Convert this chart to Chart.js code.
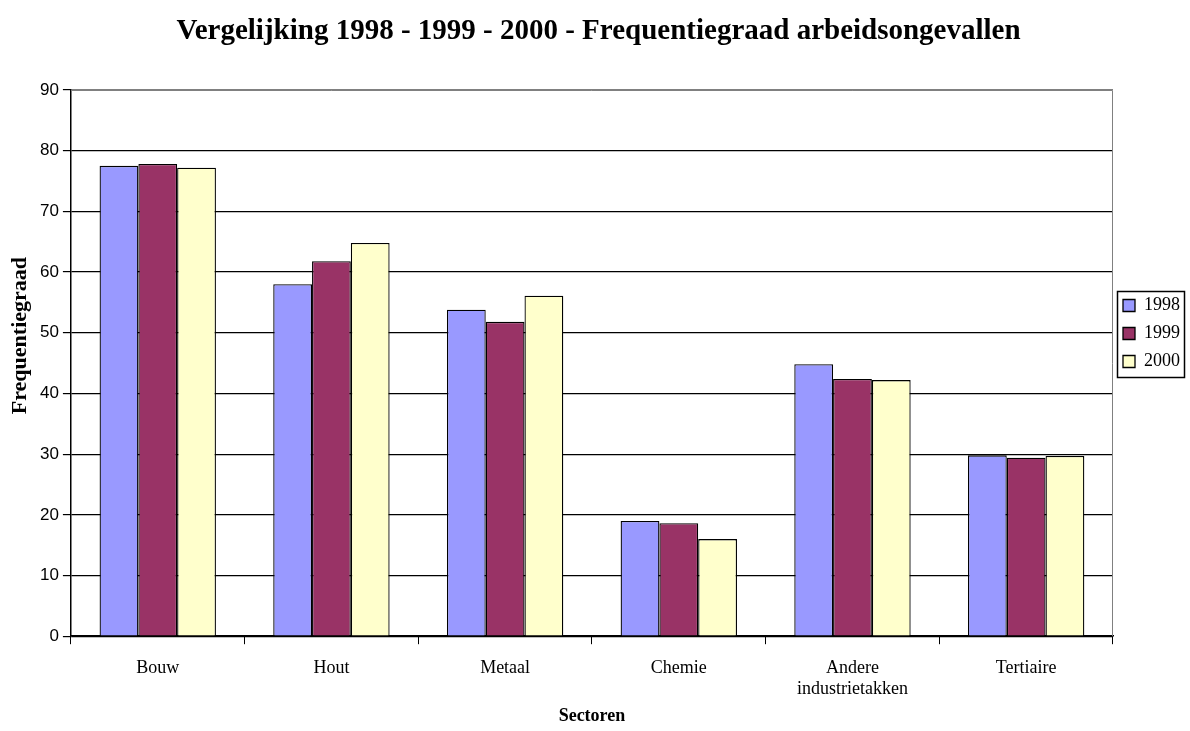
<!DOCTYPE html>
<html>
<head>
<meta charset="utf-8">
<script src="https://cdn.jsdelivr.net/npm/chart.js@4"></script>
<style>
  html, body { margin: 0; padding: 0; background: #fff; }
  #wrap { width: 1190px; height: 731px; }
</style>
</head>
<body>
<div id="wrap"><canvas id="chart" width="1190" height="731"></canvas></div>
<script>
const sectors = ['Bouw', 'Hout', 'Metaal', 'Chemie', ['Andere', 'industrietakken'], 'Tertiaire'];
const years = ['1998', '1999', '2000'];
const values1998 = [77.5, 58.0, 53.8, 19.0, 44.8, 29.8];
const values1999 = [77.8, 61.8, 51.8, 18.6, 42.4, 29.4];
const values2000 = [77.2, 64.8, 56.1, 16.0, 42.2, 29.7];
const yTicks = [0, 10, 20, 30, 40, 50, 60, 70, 80, 90];

const colors = ['#9999ff', '#993366', '#ffffcc'];
const SERIF = "'Liberation Serif', 'Times New Roman', serif";
const SANS = "'Liberation Sans', Arial, sans-serif";
const LEGEND_SHIFT = -37;

// grey frame on the top and right of the plot area, box around the legend items
const framePlugin = {
  id: 'frame',
  afterLayout(chart) {
    // lift the legend a little above the vertical middle
    const lg = chart.legend;
    lg.top += LEGEND_SHIFT;
    lg.bottom += LEGEND_SHIFT;
  },
  beforeDatasetsDraw(chart) {
    const { ctx, chartArea: a } = chart;
    ctx.save();
    ctx.strokeStyle = '#808080';
    ctx.lineWidth = 1;
    ctx.beginPath();
    ctx.moveTo(a.left, a.top + 0.5);
    ctx.lineTo(a.right - 0.5, a.top + 0.5);
    ctx.lineTo(a.right - 0.5, a.bottom);
    ctx.stroke();
    ctx.restore();
  },
  afterDraw(chart) {
    const boxes = chart.legend.legendHitBoxes;
    if (!boxes || !boxes.length) return;
    const l = Math.min(...boxes.map(b => b.left)) - 6;
    const t = Math.min(...boxes.map(b => b.top)) - 6;
    const r = Math.max(...boxes.map(b => b.left + b.width)) + 4;
    const btm = Math.max(...boxes.map(b => b.top + b.height)) + 6;
    const { ctx } = chart;
    ctx.save();
    ctx.strokeStyle = '#000';
    ctx.lineWidth = 1.5;
    ctx.strokeRect(Math.round(l) + 0.5, Math.round(t) + 0.5, Math.round(r - l), Math.round(btm - t));
    ctx.restore();
  }
};

new Chart(document.getElementById('chart'), {
  type: 'bar',
  data: {
    labels: sectors,
    datasets: [values1998, values1999, values2000].map((v, i) => ({
      label: years[i],
      data: v,
      backgroundColor: colors[i],
      borderColor: '#000',
      borderWidth: 1.3,
      categoryPercentage: 0.67,
      barPercentage: 1.0
    }))
  },
  options: {
    responsive: false,
    animation: false,
    layout: { padding: { left: 7, right: 0, top: 14, bottom: 4 } },
    plugins: {
      title: {
        display: true,
        text: 'Vergelijking 1998 - 1999 - 2000 - Frequentiegraad arbeidsongevallen',
        color: '#000',
        font: { family: SERIF, size: 29, weight: 'bold' },
        padding: { top: 0, bottom: 41.2 }
      },
      legend: {
        position: 'right',
        align: 'center',
        labels: {
          color: '#000',
          font: { family: SERIF, size: 18 },
          boxWidth: 12,
          boxHeight: 12,
          padding: 10
        }
      },
      tooltip: { enabled: false }
    },
    scales: {
      x: {
        grid: {
          offset: true,
          drawOnChartArea: false,
          drawTicks: true,
          tickLength: 8,
          color: '#000',
          tickColor: '#000'
        },
        border: { color: '#000', width: 1.5 },
        ticks: {
          color: '#000',
          font: { family: SERIF, size: 18 },
          padding: 13,
          maxRotation: 0
        },
        title: {
          display: true,
          text: 'Sectoren',
          color: '#000',
          font: { family: SERIF, size: 18, weight: 'bold' },
          padding: { top: -8, bottom: 0 }
        }
      },
      y: {
        min: 0,
        max: 90,
        afterBuildTicks(axis) { axis.ticks = yTicks.map(v => ({ value: v })); },
        grid: {
          color: ctx => ctx.tick && ctx.tick.value === 90 ? '#808080' : '#000',
          tickColor: '#000',
          lineWidth: 1.2,
          drawTicks: true,
          tickLength: 8
        },
        border: { color: '#000', width: 1.5 },
        ticks: {
          color: '#000',
          font: { family: SANS, size: 17 },
          padding: 4
        },
        title: {
          display: true,
          // leading spaces push the rotated title up from the axis middle
          text: '          Frequentiegraad',
          color: '#000',
          font: { family: SERIF, size: 22, weight: 'bold' },
          padding: { top: 0, bottom: 2.6 }
        }
      }
    }
  },
  plugins: [framePlugin]
});
</script>
</body>
</html>
